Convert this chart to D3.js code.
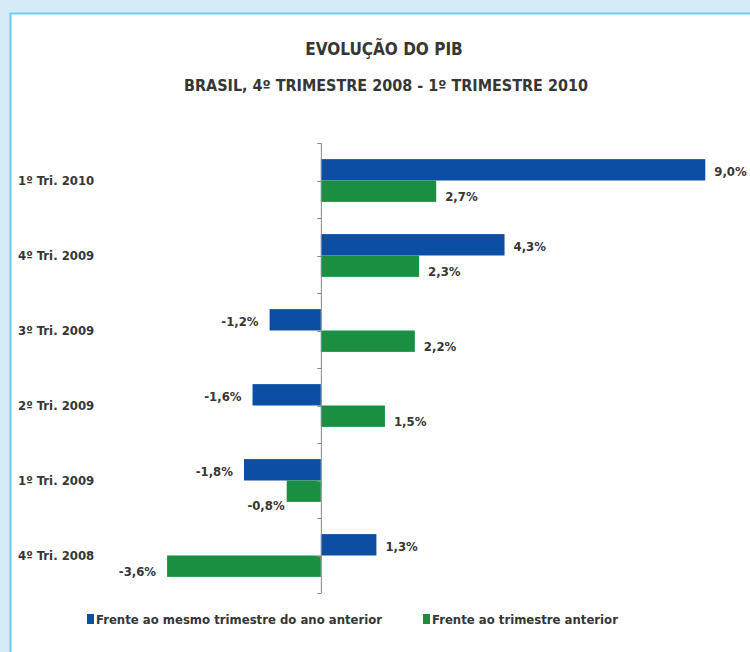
<!DOCTYPE html>
<html>
<head>
<meta charset="utf-8">
<script src="https://cdn.jsdelivr.net/npm/d3@7"></script>
<style>
  body { margin: 0; background: #d5ebf8; }
  svg { display: block; }
</style>
</head>
<body>
<svg id="chart" width="750" height="652"></svg>
<script>
// categories, bottom to top as in the source table
const categories = ['4º Tri. 2008', '1º Tri. 2009', '2º Tri. 2009', '3º Tri. 2009', '4º Tri. 2009', '1º Tri. 2010'];
const seriesNames = ['Frente ao mesmo trimestre do ano anterior', 'Frente ao trimestre anterior'];
const sameQuarterPrevYear = [1.3, -1.8, -1.6, -1.2, 4.3, 9.0];
const previousQuarter = [-3.6, -0.8, 1.5, 2.2, 2.3, 2.7];
const titleLines = ['EVOLUÇÃO DO PIB', 'BRASIL, 4º TRIMESTRE 2008 - 1º TRIMESTRE 2010'];

const colors = ['#0c4ea3', '#1a8f41'];
const font = '"Liberation Sans Narrow", "DejaVu Sans Condensed", Arial, sans-serif';
const textColor = '#363636';

const svg = d3.select('#chart');

// white panel with cyan border
svg.append('rect').attr('x', 10.5).attr('y', 13.5).attr('width', 760).attr('height', 660)
  .attr('fill', '#fff').attr('stroke', '#6ccdf4').attr('stroke-width', 2);

svg.append('text').attr('x', 384).attr('y', 55).attr('text-anchor', 'middle')
  .style('font-family', font).style('font-weight', 'bold').style('font-size', '17px').attr('fill', textColor)
  .text(titleLines[0]);
svg.append('text').attr('x', 386).attr('y', 91).attr('text-anchor', 'middle')
  .style('font-family', font).style('font-weight', 'bold').style('font-size', '16px').attr('fill', textColor)
  .text(titleLines[1]);

const rows = categories.map((c, i) => ({ cat: c, values: [sameQuarterPrevYear[i], previousQuarter[i]] })).reverse();

const x = d3.scaleLinear().domain([-4, 10]).range([150, 748]);
const y = d3.scaleBand().domain(rows.map(d => d.cat)).range([143, 593]).paddingInner(0.43).paddingOuter(0.215);
const ySub = d3.scaleBand().domain([0, 1]).range([0, y.bandwidth()]);
const step = y.step();

const g = svg.append('g');

// bars
const groups = g.selectAll('.grp').data(rows).enter().append('g').attr('class', 'grp')
  .attr('transform', d => `translate(0,${y(d.cat)})`);

groups.selectAll('rect').data(d => d.values.map((v, k) => ({ v, k, row: d }))).enter().append('rect')
  .attr('x', d => x(Math.min(0, d.v)))
  .attr('y', d => ySub(d.k))
  .attr('width', d => Math.abs(x(d.v) - x(0)))
  .attr('height', ySub.bandwidth())
  .attr('fill', d => colors[d.k]);

// value labels
const fmt = v => d3.format('.1f')(v).replace('.', ',').replace('−', '-') + '%';
groups.selectAll('.lbl').data(d => d.values.map((v, k) => ({ v, k, row: d }))).enter().append('text')
  .attr('class', 'lbl')
  .each(function (d) {
    const t = d3.select(this);
    const cy = ySub(d.k) + ySub.bandwidth() / 2 + (d.k === 0 ? 2 : 5);
    const other = d.row.values[0];
    // small negative bar beneath a longer negative one: label goes under the bar
    if (d.k === 1 && d.v < 0 && other < d.v) {
      t.attr('x', x(d.v) - 2).attr('y', ySub(d.k) + ySub.bandwidth() + 4).attr('text-anchor', 'end');
    } else if (d.v >= 0) {
      t.attr('x', x(d.v) + 9).attr('y', cy).attr('text-anchor', 'start');
    } else {
      t.attr('x', x(d.v) - 11).attr('y', cy).attr('text-anchor', 'end');
    }
  })
  .attr('dy', '0.35em')
  .style('font-family', font).style('font-weight', 'bold').style('font-size', '13px').attr('fill', textColor)
  .text(d => fmt(d.v));

// category axis on the zero line
const axisX = x(0) + 0.5;
g.append('line').attr('x1', axisX).attr('x2', axisX).attr('y1', 143).attr('y2', 593)
  .attr('stroke', '#8a8a8a').attr('stroke-width', 1);
const tickYs = d3.range(0, rows.length * 2 + 1).map(i => 143 + i * step / 2);
g.selectAll('.tick').data(tickYs).enter().append('line')
  .attr('x1', axisX - 4).attr('x2', axisX).attr('y1', d => Math.round(d) + 0.5).attr('y2', d => Math.round(d) + 0.5)
  .attr('stroke', '#8a8a8a');

g.selectAll('.cat').data(rows).enter().append('text')
  .attr('x', 18).attr('y', d => y(d.cat) + y.bandwidth() / 2).attr('dy', '0.35em')
  .style('font-family', font).style('font-weight', 'bold').style('font-size', '13px').attr('fill', textColor)
  .text(d => d.cat);

// legend
const legendX = [87, 423];
const legend = svg.selectAll('.leg').data(seriesNames).enter().append('g')
  .attr('transform', (d, i) => `translate(${legendX[i]},619)`);
legend.append('rect').attr('x', 0).attr('y', -5).attr('width', 7).attr('height', 10).attr('fill', (d, i) => colors[i]);
legend.append('text').attr('x', 9).attr('y', 0).attr('dy', '0.35em')
  .style('font-family', font).style('font-weight', 'bold').style('font-size', '13px').attr('fill', textColor)
  .text(d => d);
</script>
</body>
</html>
